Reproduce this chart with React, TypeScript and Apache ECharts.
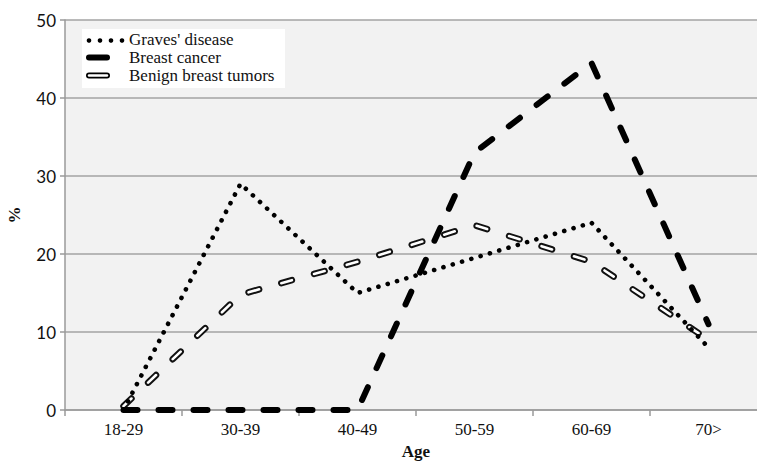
import React, { useEffect, useRef } from "react";
import * as echarts from "echarts";

const categories = ["18-29", "30-39", "40-49", "50-59", "60-69", "70>"];
const gravesDisease = [0, 29, 15, 19.5, 24, 8];
const breastCancer = [0, 0, 0, 33, 44.5, 11];
const benignTumors = [0.5, 14.8, 19, 23.7, 19, 9];
const yTicks = { min: 0, max: 50, interval: 10 };
const legendLabels = ["Graves' disease", "Breast cancer", "Benign breast tumors"];

export default function App() {
  const ref = useRef<HTMLDivElement>(null);
  useEffect(() => {
    const chart = echarts.init(ref.current!, null, { renderer: "svg" });
    const serif = "'Liberation Serif', 'Times New Roman', serif";
    const sans = "Lato, 'DejaVu Sans', sans-serif";
    const legendX = 129;
    const rows = [39.5, 57.5, 75.5];
    chart.setOption({
      animation: false,
      backgroundColor: "#ffffff",
      grid: {
        left: 65,
        top: 20,
        width: 702,
        height: 390,
        show: true,
        backgroundColor: "#f2f2f2",
        borderWidth: 0,
        containLabel: false,
        outerBoundsMode: "none",
      },
      xAxis: {
        type: "category",
        data: categories,
        boundaryGap: true,
        name: "Age",
        nameLocation: "middle",
        nameGap: 29,
        nameTextStyle: { fontFamily: serif, fontWeight: "bold", fontSize: 17, color: "#111" },
        axisLine: { lineStyle: { color: "#9a9a9a", width: 1.5 } },
        axisTick: { show: true, length: 6, lineStyle: { color: "#9a9a9a", width: 1.5 } },
        axisLabel: { fontFamily: serif, fontSize: 17, color: "#111", margin: 11 },
        splitLine: { show: false },
      },
      yAxis: {
        type: "value",
        min: yTicks.min,
        max: yTicks.max,
        interval: yTicks.interval,
        name: "%",
        nameLocation: "middle",
        nameGap: 42,
        nameRotate: 90,
        nameTextStyle: { fontFamily: serif, fontWeight: "bold", fontSize: 17, color: "#111" },
        axisLine: { show: true, lineStyle: { color: "#9a9a9a", width: 1.5 } },
        axisTick: { show: true, length: 5, lineStyle: { color: "#9a9a9a", width: 1.5 } },
        axisLabel: { fontFamily: sans, fontSize: 17, color: "#111", margin: 9 },
        splitLine: { show: true, lineStyle: { color: "#a3a3a3", width: 1.5 } },
      },
      series: [
        {
          name: legendLabels[2],
          type: "line",
          data: benignTumors,
          symbol: "none",
          z: 2,
          lineStyle: { color: "#111", width: 6.5, type: [11, 23], cap: "round" },
        },
        {
          name: legendLabels[2] + " inner",
          type: "line",
          data: benignTumors,
          symbol: "none",
          z: 3,
          lineStyle: { color: "#ffffff", width: 2.6, type: [11, 23], cap: "round" },
        },
        {
          name: legendLabels[1],
          type: "line",
          data: breastCancer,
          symbol: "none",
          z: 4,
          lineStyle: { color: "#000", width: 6, type: [14, 21], cap: "round" },
        },
        {
          name: legendLabels[0],
          type: "line",
          data: gravesDisease,
          symbol: "none",
          z: 5,
          lineStyle: { color: "#000", width: 4.6, type: [0.1, 9.6], cap: "round" },
        },
      ],
      graphic: [
        { type: "rect", shape: { x: 82, y: 29, width: 203, height: 59 }, style: { fill: "#ffffff" }, z: 10 },
        ...[89, 100, 111, 122].map((cx) => ({
          type: "circle",
          shape: { cx, cy: rows[0] + 1, r: 2.3 },
          style: { fill: "#000" },
          z: 11,
        })),
        {
          type: "line",
          shape: { x1: 89, y1: rows[1], x2: 107, y2: rows[1] },
          style: { stroke: "#000", lineWidth: 6, lineCap: "round" },
          z: 11,
        },
        {
          type: "line",
          shape: { x1: 89, y1: rows[2], x2: 107, y2: rows[2] },
          style: { stroke: "#000", lineWidth: 6, lineCap: "round" },
          z: 11,
        },
        {
          type: "line",
          shape: { x1: 89, y1: rows[2], x2: 107, y2: rows[2] },
          style: { stroke: "#fff", lineWidth: 2.4, lineCap: "round" },
          z: 12,
        },
        ...legendLabels.map((t, i) => ({
          type: "text",
          x: legendX,
          y: rows[i],
          style: {
            text: t,
            fontFamily: serif,
            fontSize: 17,
            lineHeight: 17,
            fill: "#111",
            textVerticalAlign: "middle",
            verticalAlign: "middle",
          },
          z: 12,
        })),
      ],
    });
    return () => chart.dispose();
  }, []);
  return (
    <div
      ref={ref}
      style={{ position: "fixed", left: 0, top: 0, width: 757, height: 463 }}
    />
  );
}
